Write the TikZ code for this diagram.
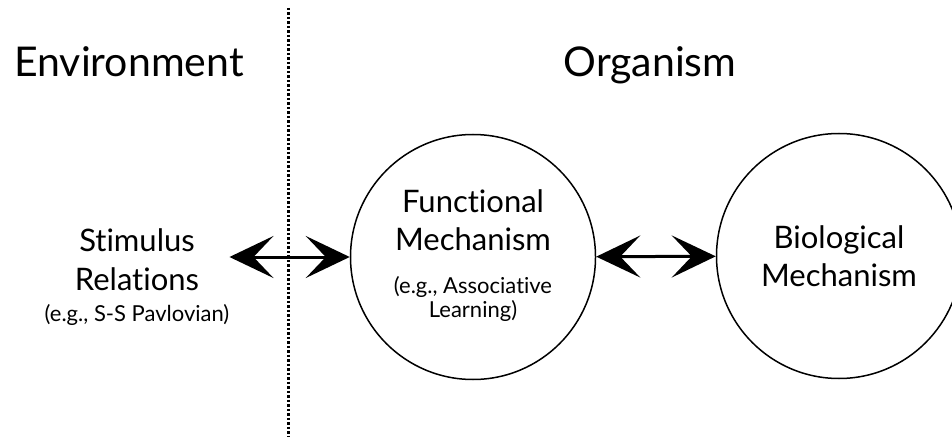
\documentclass[tikz,border=0pt]{standalone}
\usepackage{fontspec}
\setmainfont{Lato}[Ligatures=NoCommon]
\usetikzlibrary{arrows.meta}
\begin{document}
\begin{tikzpicture}[x=1pt,y=-1pt]
  \tikzstyle{mechnode}=[circle, draw, line width=1.5pt, minimum size=245pt, inner sep=0pt, align=center, font=\fontsize{31}{38}\selectfont]
  \tikzstyle{textnode}=[inner sep=0pt, align=center, font=\fontsize{31}{39}\selectfont]
  \tikzstyle{title}=[anchor=base, font=\fontsize{41}{48}\selectfont]
  \tikzstyle{link}=[line width=3pt, {Stealth[length=44pt, width=42pt, inset=20pt]}-{Stealth[length=44pt, width=42pt, inset=20pt]}]
  \useasboundingbox (0,0) rectangle (952,438);

  % Headings and divider
  \node[title] (env) at (129,77) {Environment};
  \node[title] (org) at (650,77) {Organism};
  \draw[line width=3pt, dash pattern=on 2.5pt off 2pt] (288,8) -- (288,436);

  % Node definitions
  \node[textnode] (stim) at (137,277) {Stimulus\\Relations\\[-8pt]{\fontsize{22}{24}\selectfont (e.g., S-S Pavlovian)}};
  \node[mechnode] (func) at (473,257) {Functional\\Mechanism\\[5pt]{\fontsize{22}{23}\selectfont\begin{tabular}[t]{@{}c@{}}(e.g., Associative\\Learning)\end{tabular}}};
  \node[mechnode] (bio) at (839,256) {Biological\\Mechanism};

  % Edge definitions
  \draw[link] (stim.east |- func) -- (func);
  \draw[link] (func) -- (bio);
\end{tikzpicture}
\end{document}
